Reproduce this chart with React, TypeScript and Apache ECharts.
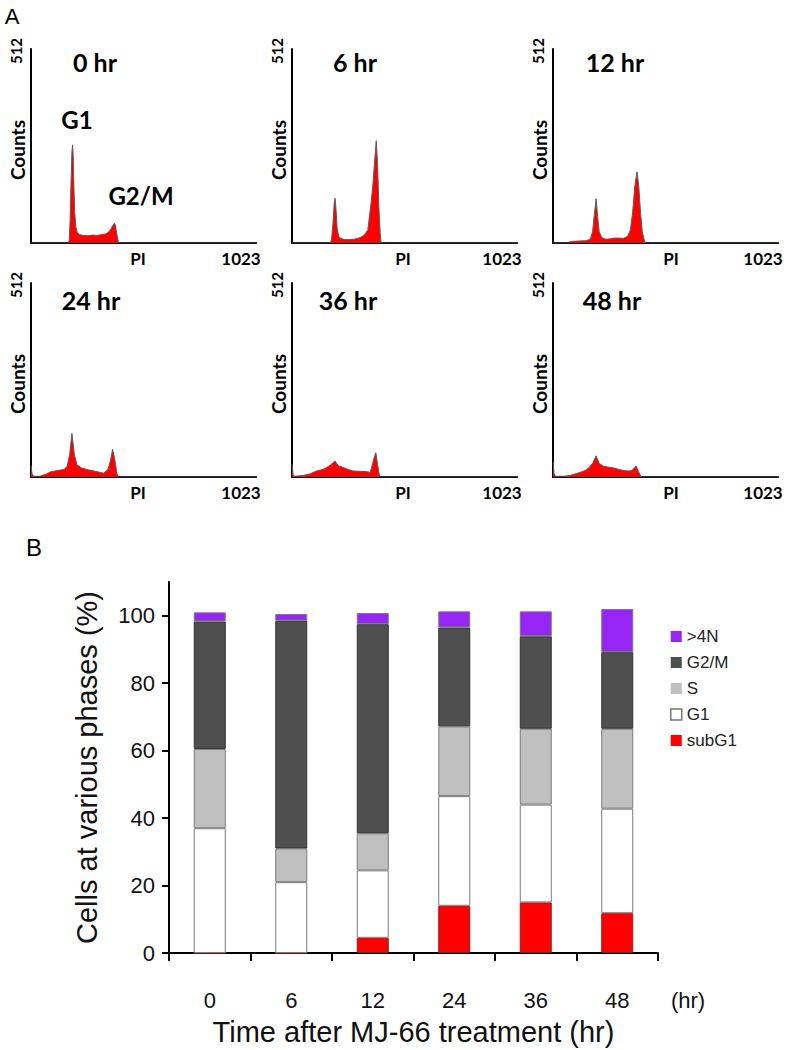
import React, { useEffect, useRef } from "react";
import * as echarts from "echarts";

// ---------- Panel A: DNA histograms, [PI channel, counts] ----------
const hist0h: number[][] = [
  [0, 0], [170, 0], [174, 8], [178, 60], [182, 160], [186, 240], [189, 259], [192, 230], [195, 150],
  [199, 80], [204, 42], [210, 28], [220, 22], [240, 20], [260, 19], [280, 21], [300, 20], [320, 22],
  [340, 24], [355, 30], [365, 38], [372, 46], [378, 52], [382, 50], [387, 35], [392, 18], [397, 4],
  [400, 0], [1023, 0],
];
const hist6h: number[][] = [
  [0, 0], [175, 0], [180, 10], [186, 50], [192, 105], [196, 118], [200, 90], [205, 40], [212, 18],
  [222, 12], [240, 9], [260, 9], [280, 10], [300, 12], [315, 16], [330, 22], [345, 35], [352, 69],
  [360, 108], [367, 148], [377, 226], [383, 270], [389, 210], [395, 95], [401, 26], [405, 0], [1023, 0],
];
const hist12h: number[][] = [
  [0, 0], [70, 0], [78, 4], [110, 5], [150, 6], [170, 10], [180, 30], [188, 75], [196, 117], [203, 70],
  [210, 30], [222, 14], [240, 10], [260, 11], [280, 13], [300, 13], [320, 12], [340, 18], [352, 35],
  [362, 80], [372, 150], [382, 188], [390, 150], [398, 80], [406, 30], [416, 5], [422, 0], [1023, 0],
];
const hist24h: number[][] = [
  [0, 30], [5, 8], [12, 2], [40, 2], [70, 8], [90, 14], [120, 17], [150, 20], [164, 28], [176, 60],
  [186, 115], [197, 60], [209, 32], [230, 24], [260, 19], [300, 14], [331, 10], [350, 20], [362, 45],
  [371, 73], [380, 50], [391, 8], [400, 0], [1023, 0],
];
const hist36h: number[][] = [
  [0, 34], [5, 6], [12, 2], [50, 4], [80, 8], [112, 16], [140, 20], [158, 25], [175, 32], [196, 42],
  [210, 30], [233, 25], [255, 20], [277, 16], [310, 15], [341, 14], [355, 12], [362, 25], [372, 48],
  [381, 64], [390, 30], [397, 5], [402, 0], [1023, 0],
];
const hist48h: number[][] = [
  [0, 40], [5, 8], [12, 2], [50, 2], [78, 4], [100, 8], [123, 12], [150, 18], [169, 28], [182, 38],
  [196, 56], [210, 36], [230, 28], [255, 26], [275, 24], [300, 20], [321, 17], [345, 16], [359, 17],
  [370, 24], [378, 29], [388, 15], [400, 2], [405, 0], [1023, 0],
];
const histTitles = ["0 hr", "6 hr", "12 hr", "24 hr", "36 hr", "48 hr"];
const histograms = [hist0h, hist6h, hist12h, hist24h, hist36h, hist48h];
const countMax = 512;
const channelMax = 1023;

// ---------- Panel B: stacked phases (%) ----------
const categories = ["0", "6", "12", "24", "36", "48"];
const subG1 = [0, 0, 4.5, 14, 15, 11.8];
const g1 = [37, 21, 20, 32.5, 29, 31];
const sPhase = [23.5, 10, 11, 20.7, 22.5, 23.7];
const g2m = [37.8, 67.5, 62, 29.3, 27.4, 22.7];
const over4N = [2.7, 2, 3.3, 4.8, 7.4, 12.8];
const yTicks = [0, 20, 40, 60, 80, 100];

const LATO = "Lato, 'Open Sans', sans-serif";
const ARIAL = "'Liberation Sans', Arial, sans-serif";

export default function App() {
  const ref = useRef<HTMLDivElement>(null);
  useEffect(() => {
    if (!ref.current) return;
    const chart = echarts.init(ref.current, null, { renderer: "svg" });

    const cols = [31, 292, 553];
    const rows = [49, 283];
    const gw = 225;
    const gh = 194;
    const piOff = [107, 111, 118];
    const titleOff = [[64, 63, 62], [60, 56, 59]];

    const grids: any[] = [];
    const xAxes: any[] = [];
    const yAxes: any[] = [];
    const series: any[] = [];
    const graphics: any[] = [];

    histograms.forEach((h, i) => {
      const r = Math.floor(i / 3);
      const c = i % 3;
      const left = cols[c];
      const top = rows[r];
      grids.push({ left, top, width: gw, height: gh });
      const axisLine = { show: true, lineStyle: { color: "#000", width: 2 } };
      xAxes.push({
        type: "value", gridIndex: i, min: 0, max: channelMax,
        axisLine, axisTick: { show: false }, axisLabel: { show: false }, splitLine: { show: false },
      });
      yAxes.push({
        type: "value", gridIndex: i, min: 0, max: countMax,
        axisLine, axisTick: { show: false }, axisLabel: { show: false }, splitLine: { show: false },
      });
      series.push({
        type: "line", xAxisIndex: i, yAxisIndex: i, data: h, showSymbol: false, symbol: "none",
        lineStyle: { color: "#5c5c5c", width: 1 },
        areaStyle: { color: "#ff0000", opacity: 1 },
        silent: true,
      });
      const bold = (size: number) => `bold ${size}px ${LATO}`;
      graphics.push(
        { type: "text", x: left + titleOff[r][c], y: top + (r === 0 ? 13 : 17),
          style: { text: histTitles[i], font: bold(25), fill: "#000", align: "center", verticalAlign: "middle" } },
        { type: "text", x: left - 15, y: top + 2, rotation: Math.PI / 2,
          style: { text: String(countMax), font: bold(15), fill: "#000", align: "center", verticalAlign: "middle" } },
        { type: "text", x: left - 14, y: top + 101, rotation: Math.PI / 2,
          style: { text: "Counts", font: bold(19), fill: "#000", align: "center", verticalAlign: "middle" } },
        { type: "text", x: left + piOff[c], y: top + gh + 15,
          style: { text: "PI", font: bold(17), fill: "#000", align: "center", verticalAlign: "middle" } },
        { type: "text", x: left + 210, y: top + gh + 15,
          style: { text: String(channelMax), font: bold(17), fill: "#000", align: "center", verticalAlign: "middle" } },
      );
    });

    graphics.push(
      { type: "text", x: 77, y: 119, style: { text: "G1", font: `bold 24px ${LATO}`, fill: "#000", align: "center", verticalAlign: "middle" } },
      { type: "text", x: 141, y: 195, style: { text: "G2/M", font: `bold 24px ${LATO}`, fill: "#000", align: "center", verticalAlign: "middle" } },
      { type: "text", x: 12, y: 16, style: { text: "A", font: `22px ${ARIAL}`, fill: "#000", align: "center", verticalAlign: "middle" } },
      { type: "text", x: 34, y: 547, style: { text: "B", font: `24px ${ARIAL}`, fill: "#000", align: "center", verticalAlign: "middle" } },
      { type: "text", x: 688, y: 1000, style: { text: "(hr)", font: `22px ${ARIAL}`, fill: "#111", align: "center", verticalAlign: "middle" } },
    );

    // Panel B
    const gi = 6;
    grids.push({ left: 169, top: 582, width: 489, height: 371 });
    xAxes.push({
      type: "category", gridIndex: gi, data: categories,
      axisLine: { show: true, lineStyle: { color: "#000", width: 2 } },
      axisTick: { show: true, length: 8, lineStyle: { color: "#000", width: 2 } },
      axisLabel: { fontSize: 22, fontFamily: ARIAL, color: "#111", margin: 36 },
      name: "Time after MJ-66 treatment (hr)", nameLocation: "middle", nameGap: 64,
      nameTextStyle: { fontSize: 29, fontFamily: ARIAL, color: "#111" },
    });
    yAxes.push({
      type: "value", gridIndex: gi, min: 0, max: 110,
      axisLine: { show: true, lineStyle: { color: "#000", width: 2 } },
      axisTick: { show: true, length: 7, lineStyle: { color: "#000", width: 2 }, customValues: yTicks },
      axisLabel: { fontSize: 22, fontFamily: ARIAL, color: "#111", margin: 14, customValues: yTicks },
      splitLine: { show: false },
      name: "Cells at various phases (%)", nameLocation: "middle", nameGap: 68, nameRotate: 90,
      nameTextStyle: { fontSize: 29, fontFamily: ARIAL, color: "#111" },
    });
    const bar = (name: string, data: number[], color: string, border: string) => ({
      name, type: "bar", stack: "phase", xAxisIndex: gi, yAxisIndex: gi, data, barWidth: 32,
      itemStyle: { color, borderColor: border, borderWidth: 1 },
    });
    series.push(
      bar("subG1", subG1, "#ff0000", "#8a2020"),
      bar("G1", g1, "#ffffff", "#7a7a7a"),
      bar("S", sPhase, "#c0c0c0", "#7a7a7a"),
      bar("G2/M", g2m, "#4f4f4f", "#333333"),
      bar(">4N", over4N, "#9526f4", "#7a7a7a"),
    );

    chart.setOption({
      animation: false,
      backgroundColor: "#fff",
      grid: grids,
      xAxis: xAxes,
      yAxis: yAxes,
      series,
      graphic: graphics,
      legend: {
        data: [
          { name: ">4N", itemStyle: { borderWidth: 0 } },
          { name: "G2/M", itemStyle: { borderWidth: 0 } },
          { name: "S", itemStyle: { borderWidth: 0 } },
          { name: "G1", itemStyle: { borderWidth: 1.5, borderColor: "#777" } },
          { name: "subG1", itemStyle: { borderWidth: 0 } },
        ],
        orient: "vertical", left: 665, top: 623, itemWidth: 11, itemHeight: 11, itemGap: 9,
        icon: "rect",
        textStyle: { fontSize: 17, fontFamily: ARIAL, color: "#222" },
      },
    });
    return () => chart.dispose();
  }, []);
  return <div ref={ref} style={{ position: "absolute", left: 0, top: 0, width: 791, height: 1050 }} />;
}
